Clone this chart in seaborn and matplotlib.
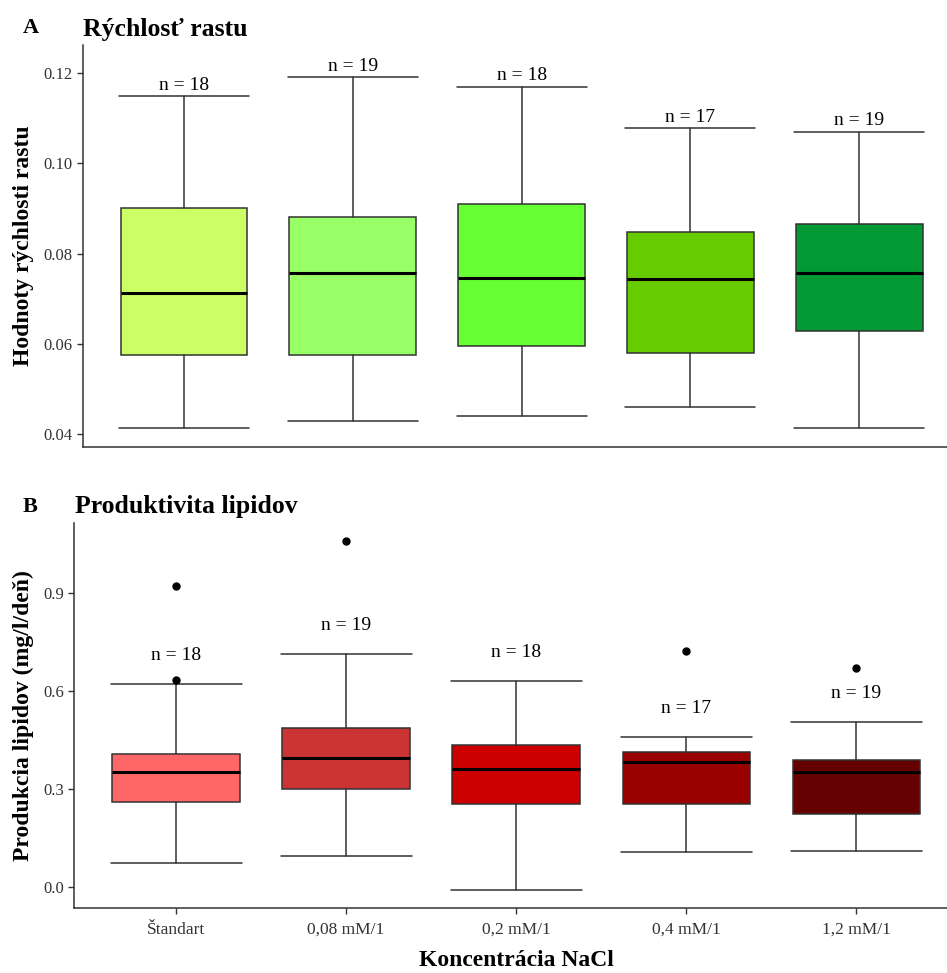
import matplotlib
matplotlib.use('Agg')
import matplotlib.pyplot as plt
import seaborn as sns

# groups (NaCl concentration)
groups = ['Štandart', '0,08 mM/1', '0,2 mM/1', '0,4 mM/1', '1,2 mM/1']
counts = [18, 19, 18, 17, 19]

# A - growth rate, box statistics
rast_low = [0.0413, 0.0430, 0.0440, 0.0460, 0.0413]
rast_q1 = [0.0576, 0.0576, 0.0596, 0.0581, 0.0629]
rast_med = [0.0712, 0.0757, 0.0745, 0.0743, 0.0757]
rast_q3 = [0.0902, 0.0882, 0.0910, 0.0849, 0.0865]
rast_high = [0.1148, 0.1190, 0.1170, 0.1078, 0.1070]
rast_out = [[], [], [], [], []]

# B - lipid productivity
lip_low = [0.074, 0.095, -0.009, 0.108, 0.112]
lip_q1 = [0.262, 0.300, 0.254, 0.254, 0.224]
lip_med = [0.352, 0.394, 0.361, 0.384, 0.352]
lip_q3 = [0.408, 0.488, 0.434, 0.413, 0.388]
lip_high = [0.622, 0.714, 0.631, 0.459, 0.505]
lip_out = [[0.922, 0.634], [1.061], [], [0.722], [0.672]]

greens = ['#CCFF66', '#99FF66', '#66FF33', '#66CC00', '#009933']
reds = ['#FF6666', '#CC3333', '#CC0000', '#990000', '#660000']


def make_stats(low, q1, med, q3, high, out):
    stats = []
    for i in range(len(med)):
        stats.append({'whislo': low[i], 'q1': q1[i], 'med': med[i],
                      'q3': q3[i], 'whishi': high[i], 'fliers': out[i]})
    return stats


def draw_box(ax, stats, colors, n_offset):
    bp = ax.bxp(stats, positions=range(len(stats)), widths=0.75,
                capwidths=0.77, patch_artist=True,
                boxprops=dict(edgecolor='#333333', linewidth=1.1),
                whiskerprops=dict(color='#333333', linewidth=1.1),
                capprops=dict(color='#333333', linewidth=1.1),
                medianprops=dict(color='black', linewidth=2.2),
                flierprops=dict(marker='o', markerfacecolor='black',
                                markeredgecolor='black', markersize=5))
    for patch, c in zip(bp['boxes'], colors):
        patch.set_facecolor(c)
    for i, s in enumerate(stats):
        ax.annotate(f'n = {counts[i]}', (i, s['whishi']), xytext=(0, n_offset),
                    textcoords='offset points', ha='center', va='baseline',
                    fontsize=14, color='black')
    ax.set_xlim(-0.6, 4.6)
    sns.despine(ax=ax)
    for sp in ['left', 'bottom']:
        ax.spines[sp].set_color('#333333')
        ax.spines[sp].set_linewidth(1.1)


sns.set_theme(style='white')
plt.rcParams['font.family'] = ['Liberation Serif', 'DejaVu Serif']
plt.rcParams['text.color'] = 'black'
plt.rcParams['axes.labelcolor'] = 'black'

fig = plt.figure(figsize=(9.47, 9.73), dpi=100)
ax1 = fig.add_axes([0.0873, 0.5406, 0.927, 0.4132])
ax2 = fig.add_axes([0.0781, 0.0668, 0.934, 0.3957])

draw_box(ax1, make_stats(rast_low, rast_q1, rast_med, rast_q3, rast_high, rast_out), greens, 4.6)
draw_box(ax2, make_stats(lip_low, lip_q1, lip_med, lip_q3, lip_high, lip_out), reds, 17.5)

ax1.set_ylim(0.0372, 0.1262)
ax1.set_yticks([0.04, 0.06, 0.08, 0.10, 0.12])
ax1.set_yticklabels(['0.04', '0.06', '0.08', '0.10', '0.12'])
ax1.set_xticks([])
ax1.tick_params(axis='y', left=True, length=4, width=1, color='#333333',
                labelsize=12, labelcolor='#333333', pad=3)
ax1.set_ylabel('Hodnoty rýchlosti rastu', fontsize=17, fontweight='bold')
ax1.yaxis.set_label_coords(-0.055, 0.5)

ax2.set_ylim(-0.064, 1.115)
ax2.set_yticks([0.0, 0.3, 0.6, 0.9])
ax2.set_yticklabels(['0.0', '0.3', '0.6', '0.9'])
ax2.set_xticks(range(len(groups)))
ax2.set_xticklabels(groups)
ax2.tick_params(axis='both', left=True, bottom=True, length=4, width=1,
                color='#333333', labelsize=12, labelcolor='#333333', pad=3)
ax2.tick_params(axis='x', labelsize=12.5, pad=6)
ax2.set_ylabel('Produkcia lipidov (mg/l/deň)', fontsize=17, fontweight='bold')
ax2.yaxis.set_label_coords(-0.045, 0.5)
ax2.set_xlabel('Koncentrácia NaCl', fontsize=17, fontweight='bold', labelpad=9)

fig.text(0.024, 0.9658, 'A', fontsize=16, fontweight='bold', va='baseline')
fig.text(0.0873, 0.963, 'Rýchlosť rastu', fontsize=18.5, fontweight='bold', va='baseline')
fig.text(0.024, 0.4741, 'B', fontsize=16, fontweight='bold', va='baseline')
fig.text(0.0792, 0.4725, 'Produktivita lipidov', fontsize=18.5, fontweight='bold', va='baseline')

fig.savefig('out.png', dpi=100)
